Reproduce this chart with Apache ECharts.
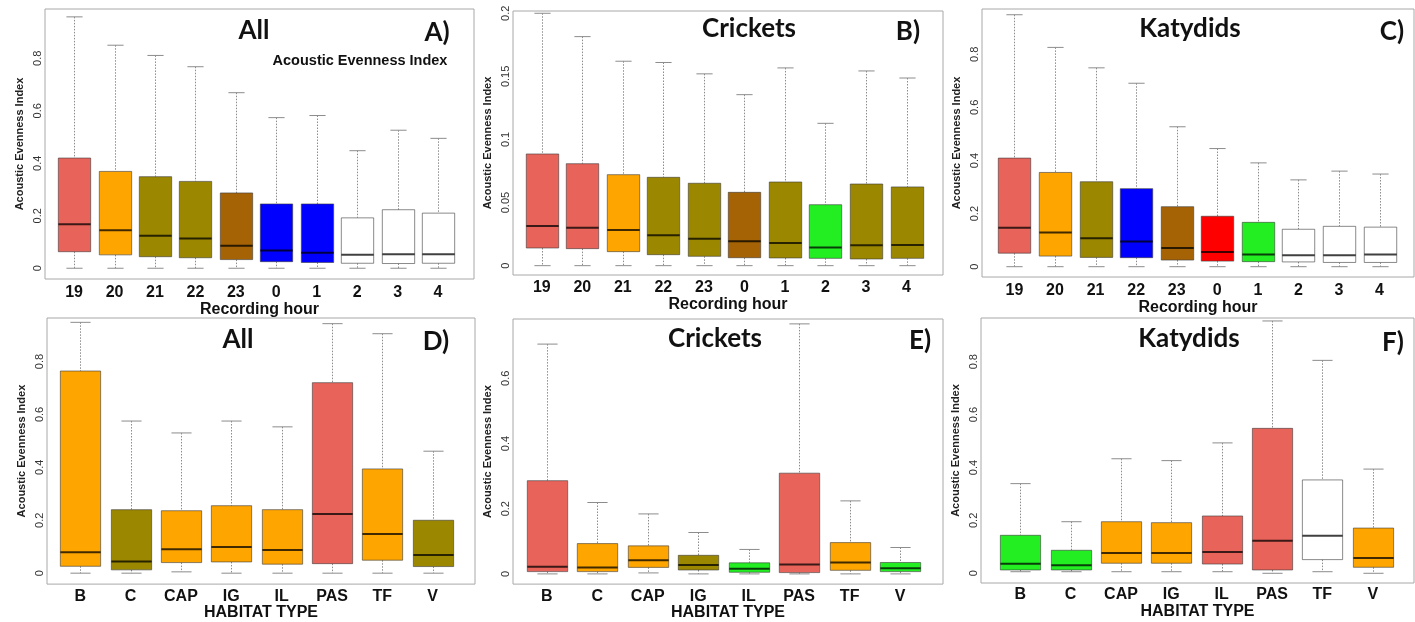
<!DOCTYPE html>
<html>
<head>
<meta charset="utf-8">
<title>Acoustic Evenness Index</title>
<script src="https://cdn.jsdelivr.net/npm/echarts@6.0.0/dist/echarts.min.js"></script>
<style>
html, body { margin: 0; padding: 0; background: #fff; }
#main { width: 1415px; height: 622px; }
</style>
</head>
<body>
<div id="main"></div>
<script>
const hours = ['19', '20', '21', '22', '23', '0', '1', '2', '3', '4'];
const habitats = ['B', 'C', 'CAP', 'IG', 'IL', 'PAS', 'TF', 'V'];

// [lower whisker, q1, median, q3, upper whisker]
const allByHour = [
  [0, 0.063, 0.168, 0.42, 0.958],
  [0, 0.051, 0.145, 0.369, 0.85],
  [0, 0.044, 0.124, 0.349, 0.811],
  [0, 0.040, 0.113, 0.331, 0.768],
  [0, 0.033, 0.086, 0.287, 0.669],
  [0, 0.025, 0.068, 0.245, 0.574],
  [0, 0.022, 0.059, 0.245, 0.582],
  [0, 0.019, 0.051, 0.192, 0.448],
  [0, 0.018, 0.053, 0.223, 0.526],
  [0, 0.019, 0.053, 0.21, 0.495],
];
const cricketsByHour = [
  [0, 0.014, 0.0314, 0.0885, 0.2],
  [0, 0.0135, 0.0301, 0.0808, 0.1815],
  [0, 0.0111, 0.0283, 0.0721, 0.162],
  [0, 0.0087, 0.024, 0.070, 0.161],
  [0, 0.0074, 0.0214, 0.0653, 0.152],
  [0, 0.0063, 0.0193, 0.0581, 0.1355],
  [0, 0.0061, 0.018, 0.0663, 0.1567],
  [0, 0.0058, 0.0143, 0.0483, 0.1128],
  [0, 0.0053, 0.0161, 0.0647, 0.1543],
  [0, 0.0058, 0.0164, 0.0624, 0.1487],
];
const katydidsByHour = [
  [0, 0.051, 0.147, 0.409, 0.949],
  [0, 0.040, 0.129, 0.355, 0.826],
  [0, 0.035, 0.107, 0.320, 0.749],
  [0, 0.034, 0.095, 0.294, 0.691],
  [0, 0.025, 0.070, 0.226, 0.527],
  [0, 0.021, 0.055, 0.19, 0.445],
  [0, 0.019, 0.046, 0.167, 0.391],
  [0, 0.018, 0.043, 0.141, 0.327],
  [0, 0.016, 0.043, 0.152, 0.360],
  [0, 0.016, 0.046, 0.149, 0.349],
];
const allByHabitat = [
  [0, 0.026, 0.079, 0.764, 0.948],
  [0, 0.0125, 0.044, 0.24, 0.575],
  [0.005, 0.040, 0.09, 0.236, 0.53],
  [0, 0.0425, 0.099, 0.255, 0.575],
  [0, 0.034, 0.0875, 0.24, 0.553],
  [0, 0.036, 0.224, 0.72, 0.943],
  [0, 0.049, 0.148, 0.394, 0.905],
  [0, 0.025, 0.069, 0.2, 0.461],
];
const cricketsByHabitat = [
  [0, 0.007, 0.022, 0.286, 0.705],
  [0, 0.007, 0.020, 0.093, 0.219],
  [0.003, 0.020, 0.0415, 0.086, 0.184],
  [0, 0.012, 0.027, 0.057, 0.127],
  [0, 0.005, 0.016, 0.034, 0.075],
  [0, 0.004, 0.029, 0.309, 0.767],
  [0, 0.011, 0.035, 0.096, 0.224],
  [0, 0.007, 0.017, 0.035, 0.081],
];
const katydidsByHabitat = [
  [0.006, 0.0126, 0.0365, 0.1436, 0.339],
  [0.006, 0.0126, 0.030, 0.087, 0.195],
  [0.006, 0.038, 0.077, 0.195, 0.433],
  [0.006, 0.038, 0.077, 0.1915, 0.426],
  [0.006, 0.035, 0.0806, 0.2167, 0.493],
  [0, 0.0126, 0.1235, 0.548, 0.954],
  [0.006, 0.0517, 0.1424, 0.353, 0.805],
  [0, 0.0227, 0.058, 0.171, 0.394],
];

const ticksUnit = [0, 0.2, 0.4, 0.6, 0.8];
const ticksCrickets = [0, 0.05, 0.1, 0.15, 0.2];
const ticksCricketsHab = [0, 0.2, 0.4, 0.6];

// fills
const S = '#E8635A', O = '#FFA500', OL = '#9B8700', BR = '#A66306',
  BL = '#0000FF', R = '#FF0000', G = '#22EE22', W = '#FFFFFF';

const panels = [
  { stats: allByHour, cats: hours, fill: [S, O, OL, OL, BR, BL, BL, W, W, W],
    grid: { left: 45, top: 9, width: 429, height: 270 }, x: [0.28, 10.89], y: [-0.041, 0.988], lm: 6,
    ticks: ticksUnit, xName: 'Recording hour', title: 'All', tag: 'A)', tx: 254, ty: 31, gx: 437, gy: 33 },
  { stats: cricketsByHour, cats: hours, fill: [S, S, O, OL, OL, BR, OL, G, OL, OL],
    grid: { left: 513, top: 11, width: 430, height: 264 }, x: [0.29, 10.9], y: [-0.0074, 0.2018], lm: 5,
    ticks: ticksCrickets, xName: 'Recording hour', title: 'Crickets', tag: 'B)', tx: 749, ty: 29, gx: 908, gy: 32 },
  { stats: katydidsByHour, cats: hours, fill: [S, O, OL, BL, BR, R, G, W, W, W],
    grid: { left: 982, top: 9, width: 432, height: 268 }, x: [0.2, 10.85], y: [-0.0388, 0.9706], lm: 6,
    ticks: ticksUnit, xName: 'Recording hour', title: 'Katydids', tag: 'C)', tx: 1190, ty: 29, gx: 1392, gy: 32 },
  { stats: allByHabitat, cats: habitats, fill: [O, OL, O, O, O, S, O, OL],
    grid: { left: 47, top: 318, width: 428, height: 268 }, x: [0.34, 8.84], y: [-0.0413, 0.9644], lm: 4,
    ticks: ticksUnit, xName: 'HABITAT TYPE', title: 'All', tag: 'D)', tx: 238, ty: 340, gx: 436, gy: 342 },
  { stats: cricketsByHabitat, cats: habitats, fill: [S, O, O, OL, G, S, O, G],
    grid: { left: 513, top: 319, width: 430, height: 268 }, x: [0.33, 8.85], y: [-0.0313, 0.782], lm: 4,
    ticks: ticksCricketsHab, xName: 'HABITAT TYPE', title: 'Crickets', tag: 'E)', tx: 715, ty: 339, gx: 920, gy: 341 },
  { stats: katydidsByHabitat, cats: habitats, fill: [G, G, O, O, S, S, W, O],
    grid: { left: 981, top: 318, width: 433, height: 265 }, x: [0.22, 8.82], y: [-0.0367, 0.9652], lm: 4,
    ticks: ticksUnit, xName: 'HABITAT TYPE', title: 'Katydids', tag: 'F)', tx: 1189, ty: 339, gx: 1393, gy: 343 },
];

const FONT = 'Liberation Sans, Arial, sans-serif';

function boxRenderer(fill) {
  return function (params, api) {
    const xv = api.value(0);
    const lo = api.coord([xv, api.value(1)]);
    const q1 = api.coord([xv, api.value(2)]);
    const md = api.coord([xv, api.value(3)]);
    const q3 = api.coord([xv, api.value(4)]);
    const hi = api.coord([xv, api.value(5)]);
    const w = api.size([0.8, 0])[0];
    const cx = Math.round(lo[0]) + 0.5;
    const half = w / 2;
    const cap = w / 4;
    const dotted = { stroke: '#8c8c8c', lineWidth: 1, lineDash: [1.5, 1.5] };
    const solid = { stroke: '#8c8c8c', lineWidth: 1 };
    return {
      type: 'group',
      children: [
        { type: 'line', shape: { x1: cx, y1: hi[1], x2: cx, y2: q3[1] }, style: dotted },
        { type: 'line', shape: { x1: cx, y1: q1[1], x2: cx, y2: lo[1] }, style: dotted },
        { type: 'line', shape: { x1: cx - cap, y1: hi[1], x2: cx + cap, y2: hi[1] }, style: solid },
        { type: 'line', shape: { x1: cx - cap, y1: lo[1], x2: cx + cap, y2: lo[1] }, style: solid },
        { type: 'rect', shape: { x: cx - half, y: q3[1], width: w, height: q1[1] - q3[1] },
          style: { fill: fill[params.dataIndex], stroke: 'rgba(60,60,60,0.6)', lineWidth: 1 } },
        { type: 'line', shape: { x1: cx - half, y1: md[1], x2: cx + half, y2: md[1] },
          style: { stroke: 'rgba(0,0,0,0.75)', lineWidth: 2 } },
      ],
    };
  };
}

const chart = echarts.init(document.getElementById('main'));
const option = {
  animation: false,
  backgroundColor: '#fff',
  grid: [],
  xAxis: [],
  yAxis: [],
  series: [],
  graphic: [],
};

panels.forEach((p, i) => {
  option.grid.push(Object.assign({ show: true, borderColor: '#a8a8a8', borderWidth: 1 }, p.grid));
  option.xAxis.push({
    gridIndex: i,
    type: 'value',
    min: p.x[0],
    max: p.x[1],
    axisLine: { show: false },
    axisTick: { show: false },
    splitLine: { show: false },
    axisLabel: {
      customValues: p.cats.map((c, k) => k + 1),
      formatter: (v) => p.cats[Math.round(v) - 1],
      fontFamily: FONT,
      fontSize: 16,
      fontWeight: 'bold',
      color: '#111',
      margin: p.lm,
    },
    name: p.xName,
    nameLocation: 'middle',
    nameGap: 18,
    nameTextStyle: { fontFamily: FONT, fontSize: 16, fontWeight: 'bold', color: '#111' },
  });
  option.yAxis.push({
    gridIndex: i,
    type: 'value',
    min: p.y[0],
    max: p.y[1],
    axisLine: { show: false },
    axisTick: { show: false },
    splitLine: { show: false },
    axisLabel: {
      customValues: p.ticks,
      rotate: 90,
      fontFamily: FONT,
      fontSize: 11,
      color: '#333',
      margin: 2,
    },
    name: 'Acoustic Evenness Index',
    nameLocation: 'middle',
    nameRotate: 90,
    nameGap: 20,
    nameTextStyle: { fontFamily: FONT, fontSize: 11, fontWeight: 'bold', color: '#222' },
  });
  option.series.push({
    type: 'custom',
    xAxisIndex: i,
    yAxisIndex: i,
    silent: true,
    clip: false,
    data: p.stats.map((s, k) => [k + 1].concat(s)),
    encode: { x: 0, y: [1, 2, 3, 4, 5] },
    renderItem: boxRenderer(p.fill),
  });
  option.graphic.push(
    { type: 'text', x: p.tx, y: p.ty,
      style: { text: p.title, font: 'bold 26px Lato, sans-serif', fill: '#111', textAlign: 'center', textVerticalAlign: 'middle' } },
    { type: 'text', x: p.gx, y: p.gy,
      style: { text: p.tag, font: 'bold 26px Lato, sans-serif', fill: '#111', textAlign: 'center', textVerticalAlign: 'middle' } }
  );
});

option.graphic.push({
  type: 'text', x: 360, y: 61,
  style: { text: 'Acoustic Evenness Index', font: 'bold 14.5px Liberation Sans, Arial, sans-serif', fill: '#111', textAlign: 'center', textVerticalAlign: 'middle' },
});

chart.setOption(option);
window.addEventListener('resize', () => {
  chart.resize();
});
</script>
</body>
</html>
